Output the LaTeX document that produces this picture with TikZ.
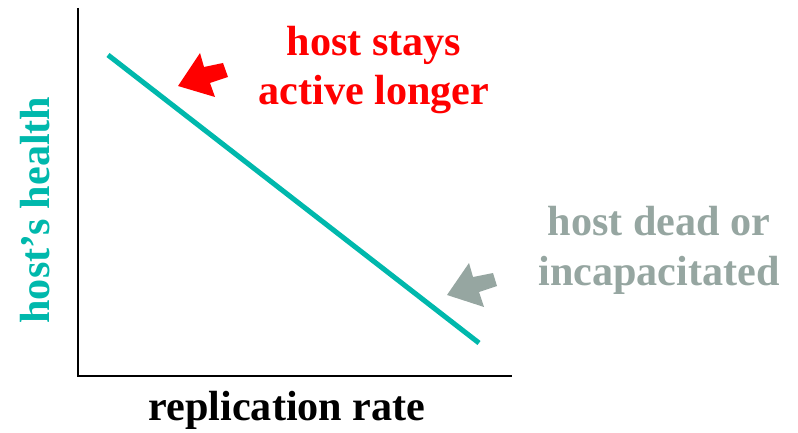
\documentclass[tikz,border=0pt]{standalone}
\usepackage{fontspec}
\setmainfont{Liberation Serif}
\usepackage{xcolor}
\usetikzlibrary{arrows.meta,positioning,calc}
\definecolor{hostteal}{RGB}{0,184,172}
\definecolor{hostgray}{RGB}{150,166,161}
\tikzset{
  lbl/.style={font=\fontsize{30}{35.5}\selectfont\bfseries, align=center, inner sep=0pt},
  axisline/.style={line width=1.4pt},
}

\begin{document}
\begin{tikzpicture}[x=0.025cm, y=-0.025cm]
\useasboundingbox (0,0) rectangle (798,433);
\draw[axisline] (78,8) -- (78,376) -- (512,376);
\draw[hostteal, line width=3.6pt] (108,55) -- (479,343);
\fill[red] (178,86) -- (200,53) -- (204,67) -- (223,63) -- (228,77) -- (210,83) -- (215,97) -- cycle;
\fill[hostgray] (447,295) -- (469,263) -- (473,277) -- (493,273) -- (497,286) -- (479,292) -- (484,307) -- cycle;
\node[lbl, text=red] (active) at (374,70) {host stays\\active longer};
\node[lbl, text=hostgray] (dead) at (659,250) {host dead or\\incapacitated};
\node[lbl, text=hostteal, rotate=90] (health) at (35,210) {host’s health};
\node[lbl] (rate) at (287,410) {replication rate};
\end{tikzpicture}
\end{document}
